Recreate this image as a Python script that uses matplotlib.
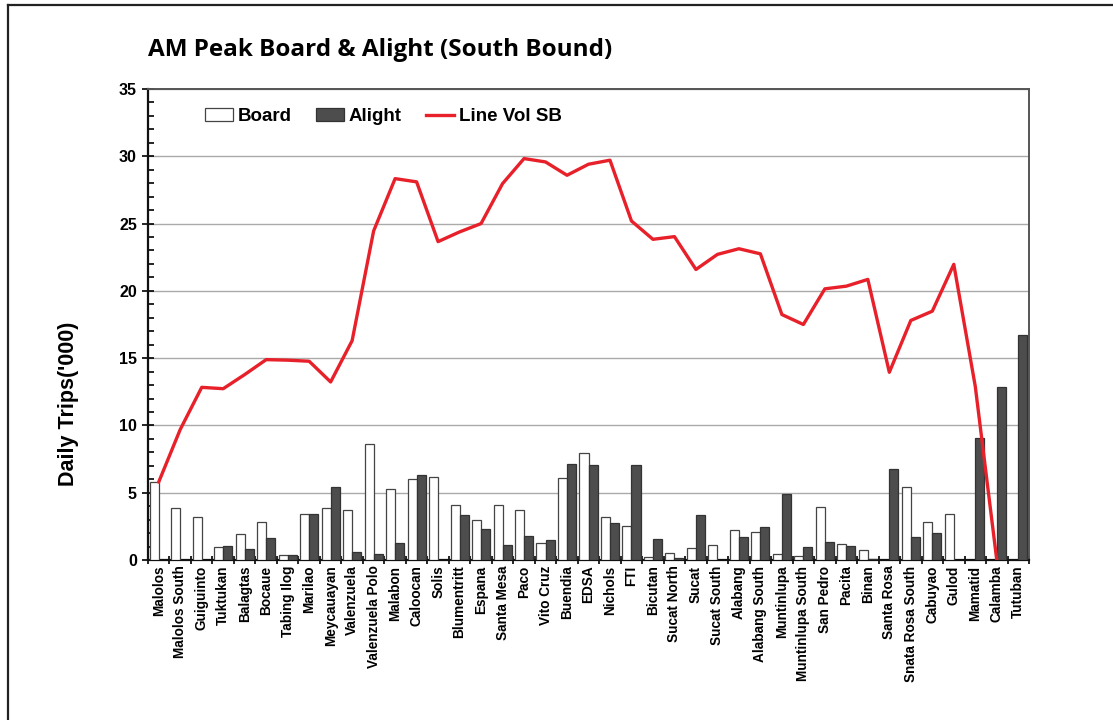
import matplotlib
matplotlib.use("Agg")
import matplotlib.pyplot as plt
import numpy as np
from matplotlib.lines import Line2D

stations = ["Malolos", "Malolos South", "Guiguinto", "Tuktukan", "Balagtas", "Bocaue",
            "Tabing Ilog", "Marilao", "Meycauayan", "Valenzuela", "Valenzuela Polo",
            "Malabon", "Caloocan", "Solis", "Blumentritt", "Espana", "Santa Mesa", "Paco",
            "Vito Cruz", "Buendia", "EDSA", "Nichols", "FTI", "Bicutan", "Sucat North",
            "Sucat", "Sucat South", "Alabang", "Alabang South", "Muntinlupa",
            "Muntinlupa South", "San Pedro", "Pacita", "Binan", "Santa Rosa",
            "Snata Rosa South", "Cabuyao", "Gulod", "Mamatid", "Calamba", "Tutuban"]

board = [5.8, 3.9, 3.2, 1.0, 1.9, 2.8, 0.37, 3.4, 3.9, 3.7, 8.6,
         5.3, 6.0, 6.2, 4.05, 3.0, 4.05, 3.7, 1.3, 6.1, 7.95,
         3.2, 2.5, 0.25, 0.5, 0.92, 1.1, 2.2, 2.05, 0.47,
         0.27, 3.95, 1.2, 0.74, 0.0, 5.46, 2.85, 3.45, 0.0, 0.0, 0.0]

alight = [0.0, 0.0, 0.0, 1.05, 0.85, 1.6, 0.37, 3.4, 5.43, 0.6, 0.42,
          1.24, 6.3, 0.0, 3.33, 2.33, 1.09, 1.81, 1.51, 7.15, 7.07,
          2.78, 7.05, 1.59, 0.12, 3.33, 0.0, 1.74, 2.43, 4.91,
          0.97, 1.34, 1.02, 0.06, 6.75, 1.69, 1.98, 0.0, 9.08, 12.86, 16.73]

line_vol = [5.8, 9.7, 12.83, 12.73, 13.78, 14.89, 14.85, 14.77, 13.23, 16.3, 24.45,
            28.34, 28.1, 23.66, 24.38, 25.0, 27.97, 29.83, 29.58, 28.59, 29.41,
            29.71, 25.19, 23.83, 24.03, 21.59, 22.71, 23.13, 22.75, 18.24,
            17.5, 20.15, 20.35, 20.85, 13.95, 17.8, 18.49, 21.97, 12.9, 0.0, np.nan]

fig = plt.figure(figsize=(11.13, 7.2), dpi=100)
ax = fig.add_axes([148/1113, 160/720, (1029-148)/1113, (560-89)/720])

x = np.arange(len(stations))
w = 0.42
b = np.array(board, dtype=float)
a = np.array(alight, dtype=float)
b_draw = np.where(b > 0, b, np.nan)
a_draw = np.where(a > 0, a, np.nan)
h_board = ax.bar(x - 0.21, b_draw, width=w, color="white", edgecolor="#444444",
                 linewidth=0.9, label="Board", zorder=3)
h_alight = ax.bar(x + 0.21, a_draw, width=w, color="#4d4d4d", edgecolor="#333333",
                  linewidth=0.9, label="Alight", zorder=3)
h_line, = ax.plot(x, line_vol, color="#e8202a", linewidth=2.4, label="Line Vol SB", zorder=4)

ax.set_xlim(-0.5, len(stations) - 0.5)
ax.set_ylim(0, 35)
ax.set_yticks(np.arange(0, 36, 5))
ax.set_yticks(np.arange(0, 36, 1), minor=True)
ax.yaxis.grid(True, which="major", color="#aaaaaa", linewidth=1.0, zorder=0)
ax.set_axisbelow(True)

ax.set_xticks(x)
ax.set_xticklabels(stations, rotation=90, fontsize=9.8, fontweight="bold",
                   family="Liberation Sans")
ax.set_xticks(np.arange(-0.5, len(stations), 1), minor=True)
ax.tick_params(axis="x", which="major", length=0, pad=4)
ax.tick_params(axis="x", which="minor", direction="inout", length=6, width=1.2)
ax.tick_params(axis="y", which="major", direction="inout", length=8, width=1.2, pad=4)
ax.tick_params(axis="y", which="minor", direction="in", length=4, width=1.2)
for lbl in ax.get_yticklabels():
    lbl.set_fontsize(11.5)
    lbl.set_fontweight("bold")
    lbl.set_family("Liberation Sans")

for side in ["left", "bottom"]:
    ax.spines[side].set_color("#111111")
    ax.spines[side].set_linewidth(1.6)
for side in ["top", "right"]:
    ax.spines[side].set_color("#555555")
    ax.spines[side].set_linewidth(1.4)

ax.set_ylabel("Daily Trips('000)", fontsize=15.5, fontweight="bold",
              family="Liberation Sans")
ax.yaxis.set_label_coords(-(148 - 79) / 881, (560 - 404) / 471)

fig.text(148/1113, 1 - 50/720, "AM Peak Board & Alight (South Bound)", fontsize=17.5,
         fontweight="bold", family="Open Sans", va="center", ha="left")

leg = ax.legend([h_board, h_alight, h_line], ["Board", "Alight", "Line Vol SB"],
                loc="upper left", bbox_to_anchor=(0.045, 0.995), ncol=3, frameon=False,
                prop={"family": "Liberation Sans", "weight": "bold", "size": 13.5},
                handlelength=1.5, handletextpad=0.25, columnspacing=1.3)

# outer frame (left & top edges visible)
fig.add_artist(Line2D([8/1113, 8/1113], [0, 1 - 5/720], transform=fig.transFigure,
                      color="#222222", linewidth=1.6))
fig.add_artist(Line2D([8/1113, 1], [1 - 5/720, 1 - 5/720], transform=fig.transFigure,
                      color="#222222", linewidth=1.6))

fig.savefig("out.png", dpi=100)
